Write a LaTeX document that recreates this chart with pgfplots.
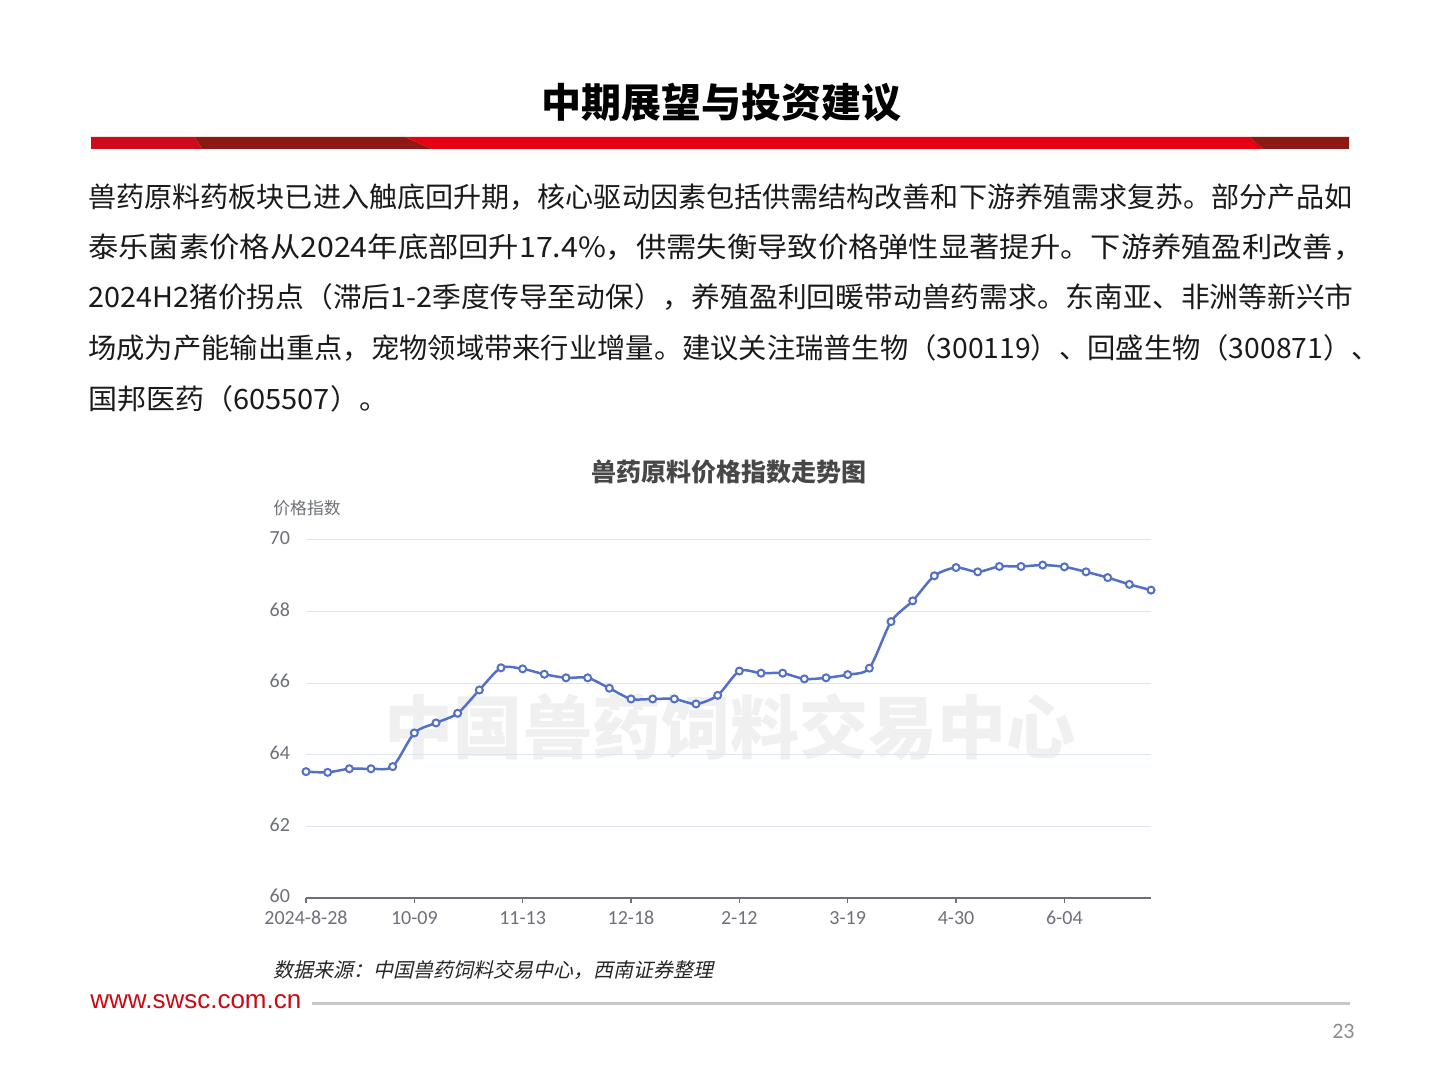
\documentclass[border=0pt]{standalone}
\usepackage{pgfplots}
\pgfplotsset{compat=1.18}
\usepackage{pgfplotstable}
\usepackage{fontspec}
\setmainfont{Noto Sans CJK SC}
\newfontfamily\cjk{Noto Sans CJK SC}
\newfontfamily\cjkit[FakeSlant=0.22]{Noto Sans CJK SC}
\newfontfamily\calib{Carlito}
\newfontfamily\arial{Liberation Sans}
\definecolor{barred}{HTML}{E60012}
\definecolor{barleft}{HTML}{CF0A1A}
\definecolor{bardark}{HTML}{8E1814}
\definecolor{linec}{HTML}{5470C6}
\definecolor{gridc}{HTML}{E0E6F1}
\definecolor{tickgray}{HTML}{6E7079}
\definecolor{bodyc}{HTML}{1A1A1A}
\definecolor{urlred}{HTML}{CC0A14}

\pgfplotstableread{
x y
0 63.53
1 63.51
2 63.61
3 63.61
4 63.67
5 64.61
6 64.89
7 65.16
8 65.81
9 66.43
10 66.40
11 66.25
12 66.15
13 66.15
14 65.86
15 65.56
16 65.56
17 65.56
18 65.42
19 65.66
20 66.34
21 66.28
22 66.28
23 66.12
24 66.15
25 66.24
26 66.42
27 67.72
28 68.30
29 69.00
30 69.23
31 69.11
32 69.26
33 69.26
34 69.30
35 69.25
36 69.11
37 68.95
38 68.76
39 68.60
}\pricedata

\begin{document}
\begin{tikzpicture}[x=0.5bp,y=0.5bp]
\path[fill=white,use as bounding box] (0,0) rectangle (1440,1080);
% title
\node[font=\cjk\bfseries\fontsize{20bp}{24bp}\selectfont, text=black] at (721,1080-103) {中期展望与投资建议};
% red bar
\fill[barleft] (91,943) -- (195,943) -- (202,931) -- (91,931) -- cycle;
\fill[bardark] (195,943) -- (405,943) -- (432,931) -- (202,931) -- cycle;
\fill[barred] (405,943) -- (1250,943) -- (1263,931) -- (432,931) -- cycle;
\fill[bardark] (1250,943) -- (1349,943) -- (1349,931) -- (1263,931) -- cycle;
% body text
\begin{scope}[every node/.style={anchor=west, inner sep=0pt, text=bodyc, font=\cjk\fontsize{14bp}{17bp}\selectfont}]
\node at (88,1080-197) {\scalebox{1.003}[1]{兽药原料药板块已进入触底回升期，核心驱动因素包括供需结构改善和下游养殖需求复苏。部分产品如}};
\node at (88,1080-247) {\scalebox{1.082}[1]{泰乐菌素价格从2024年底部回升17.4\%，供需失衡导致价格弹性显著提升。下游养殖盈利改善，}};
\node at (88,1080-297) {\scalebox{1.028}[1]{2024H2猪价拐点（滞后1-2季度传导至动保），养殖盈利回暖带动兽药需求。东南亚、非洲等新兴市}};
\node at (88,1080-348) {\scalebox{1.01}[1]{场成为产能输出重点，宠物领域带来行业增量。建议关注瑞普生物（300119）、回盛生物（300871）、}};
\node at (88,1080-399) {\scalebox{1.036}[1]{国邦医药（605507）。}};
\end{scope}
% chart title
\node[font=\cjk\bfseries\fontsize{12.5bp}{15bp}\selectfont, text=black!72] at (729,1080-472) {兽药原料价格指数走势图};
\node[anchor=west, inner sep=0pt, font=\cjk\fontsize{8.4bp}{10bp}\selectfont, text=tickgray] at (273,1080-508) {价格指数};
% watermark
\node[font=\cjk\bfseries\fontsize{34.5bp}{40bp}\selectfont, text=black!6] at (730,1080-727) {中国兽药饲料交易中心};
\begin{axis}[
  at={(153bp,91bp)}, anchor=south west,
  scale only axis, width=422.5bp, height=179bp,
  xmin=0, xmax=39, ymin=60, ymax=70,
  ytick={60,62,...,70},
  xtick={0,5,...,35},
  xticklabels={2024-8-28,10-09,11-13,12-18,2-12,3-19,4-30,6-04},
  axis lines*=left,
  x axis line style={draw=tickgray, line width=0.6bp},
  y axis line style={draw=none},
  ytick style={draw=none},
  xtick style={draw=tickgray, line width=0.6bp},
  tick align=outside,
  major tick length=2.5bp,
  ymajorgrids,
  grid style={draw=gridc, line width=0.5bp},
  /pgf/number format/assume math mode=true,
  ticklabel style={font=\calib\fontsize{10bp}{12bp}\selectfont, text=tickgray},
  yticklabel style={xshift=-2bp, yshift=1bp},
  xticklabel style={yshift=-0.5bp},
  clip=false,
]
\addplot[color=linec, line width=1.25bp, smooth, tension=0.45, mark=*, mark size=1.75bp,
  mark options={fill=white, draw=linec, line width=1bp}] table[x=x,y=y]{\pricedata};
\end{axis}
% source
\node[anchor=west, inner sep=0pt, font=\cjkit\fontsize{10bp}{12bp}\selectfont, text=black!85] at (273,1080-970) {数据来源：中国兽药饲料交易中心，西南证券整理};
% footer
\node[anchor=west, inner sep=0pt, font=\arial\fontsize{13bp}{15bp}\selectfont, text=urlred] at (90,1080-1002) {www.swsc.com.cn};
\draw[black!22, line width=1.5bp] (312,1080-1003) -- (1350,1080-1003);
\node[anchor=east, inner sep=0pt, font=\calib\fontsize{11bp}{13bp}\selectfont, text=black!45] at (1355,1080-1031) {23};
\end{tikzpicture}
\end{document}
